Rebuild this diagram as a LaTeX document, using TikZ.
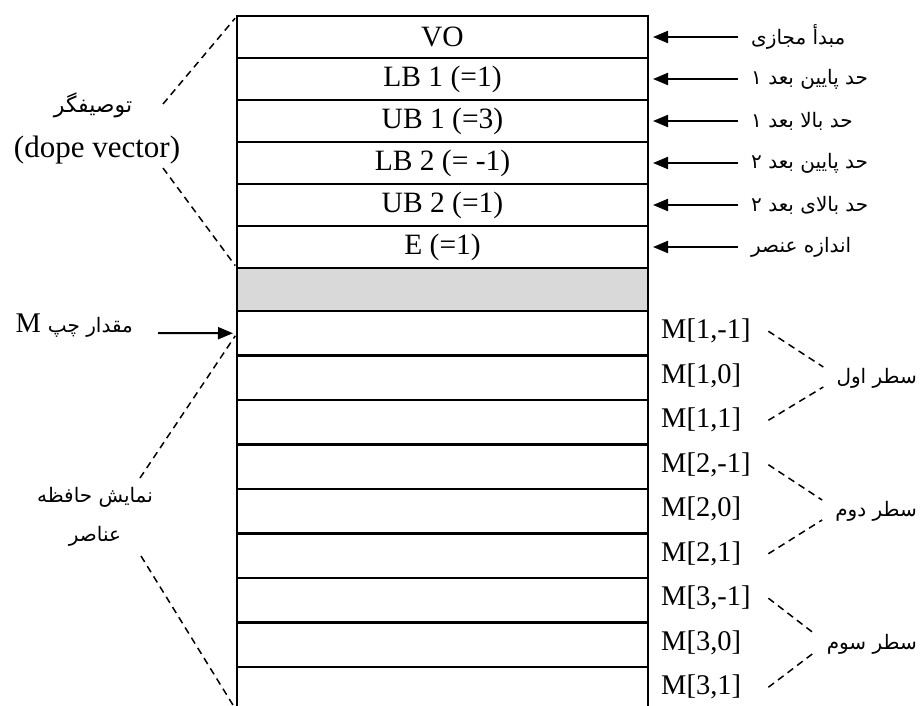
\documentclass[tikz,border=0pt]{standalone}
\usepackage{fontspec}
\setmainfont{Liberation Serif}
\newfontfamily\fa[Script=Arabic]{DejaVu Sans}
\TeXXeTstate=1
\usetikzlibrary{arrows.meta,positioning}
\tikzset{
  cell/.style={
    draw, line width=2.6pt, minimum width=411pt, outer sep=0pt, inner sep=0pt,
    font=\fontsize{29.5}{35}\selectfont
  },
  dopecell/.style={cell, minimum height=42pt},
  gapcell/.style={cell, minimum height=43pt, fill=black!15},
  memcell/.style={cell, minimum height=44.5pt},
  idx/.style={font=\fontsize{28.5}{34}\selectfont, text width=92pt, align=left, inner sep=3pt},
  note/.style={font=\fa\fontsize{20}{24}\selectfont, inner sep=3pt},
  grp/.style={note, anchor=east},
  ptr/.style={line width=2pt, -{Triangle[length=15pt, width=12pt]}},
  guide/.style={line width=1.5pt, dash pattern=on 7pt off 5pt}
}

\begin{document}
\begin{tikzpicture}[x=1pt, y=-1pt, node distance=0pt]
  \useasboundingbox (0,0) rectangle (924,706);

  % dope vector
  \node[dopecell] (vo) at (442.5,37) {VO};
  \node[dopecell, below=of vo] (lb1) {LB 1 (=1)};
  \node[dopecell, below=of lb1] (ub1) {UB 1 (=3)};
  \node[dopecell, below=of ub1] (lb2) {LB 2 (= -1)};
  \node[dopecell, below=of lb2] (ub2) {UB 2 (=1)};
  \node[dopecell, below=of ub2] (esz) {E (=1)};
  \node[gapcell, below=of esz] (gap) {};

  % elements
  \node[memcell, below=of gap] (m1) {};
  \node[memcell, below=of m1] (m2) {};
  \node[memcell, below=of m2] (m3) {};
  \node[memcell, below=of m3] (m4) {};
  \node[memcell, below=of m4] (m5) {};
  \node[memcell, below=of m5] (m6) {};
  \node[memcell, below=of m6] (m7) {};
  \node[memcell, below=of m7] (m8) {};
  \node[memcell, below=of m8] (m9) {};

  \node[idx, right=10pt of m1, yshift=2pt] (i1) {M[1,-1]};
  \node[idx, right=10pt of m2, yshift=2pt] (i2) {M[1,0]};
  \node[idx, right=10pt of m3, yshift=2pt] (i3) {M[1,1]};
  \node[idx, right=10pt of m4, yshift=2pt] (i4) {M[2,-1]};
  \node[idx, right=10pt of m5, yshift=2pt] (i5) {M[2,0]};
  \node[idx, right=10pt of m6, yshift=2pt] (i6) {M[2,1]};
  \node[idx, right=10pt of m7, yshift=2pt] (i7) {M[3,-1]};
  \node[idx, right=10pt of m8, yshift=2pt] (i8) {M[3,0]};
  \node[idx, right=10pt of m9, yshift=2pt] (i9) {M[3,1]};

  % right notes
  \node[note, right=100pt of vo] (n1) {\beginR مبدأ مجازی\endR};
  \node[note, right=100pt of lb1] (n2) {\beginR حد پایین بعد ۱\endR};
  \node[note, right=100pt of ub1] (n3) {\beginR حد بالا بعد ۱\endR};
  \node[note, right=100pt of lb2] (n4) {\beginR حد پایین بعد ۲\endR};
  \node[note, right=100pt of ub2] (n5) {\beginR حد بالای بعد ۲\endR};
  \node[note, right=100pt of esz] (n6) {\beginR اندازه عنصر\endR};
  \draw[ptr, shorten <=10pt, shorten >=5pt] (n1) -- (vo);
  \draw[ptr, shorten <=10pt, shorten >=5pt] (n2) -- (lb1);
  \draw[ptr, shorten <=10pt, shorten >=5pt] (n3) -- (ub1);
  \draw[ptr, shorten <=10pt, shorten >=5pt] (n4) -- (lb2);
  \draw[ptr, shorten <=10pt, shorten >=5pt] (n5) -- (ub2);
  \draw[ptr, shorten <=10pt, shorten >=5pt] (n6) -- (esz);

  % row groups
  \node[grp] (g1) at (920,378) {\beginR سطر اول\endR};
  \node[grp] (g2) at (920,511) {\beginR سطر دوم\endR};
  \node[grp] (g3) at (920,644) {\beginR سطر سوم\endR};
  \draw[guide] ([xshift=12pt]i1.east) -- ([xshift=-10pt, yshift=11pt]g1.west);
  \draw[guide] ([xshift=12pt]i3.east) -- ([xshift=-10pt, yshift=-9pt]g1.west);
  \draw[guide] ([xshift=12pt]i4.east) -- ([xshift=-10pt, yshift=11pt]g2.west);
  \draw[guide] ([xshift=12pt]i6.east) -- ([xshift=-10pt, yshift=-9pt]g2.west);
  \draw[guide] ([xshift=12pt]i7.east) -- ([xshift=-10pt, yshift=11pt]g3.west);
  \draw[guide] ([xshift=12pt]i9.east) -- ([xshift=-10pt, yshift=-9pt]g3.west);

  % left labels
  \node[note, font=\fa\fontsize{22}{26}\selectfont] (dopefa) at (93,105) {\beginR توصیفگر\endR};
  \node[font=\fontsize{31}{37}\selectfont] (dopeen) at (97,150) {(dope vector)};
  \coordinate (d1) at (163,104);
  \coordinate (d2) at (163,168);
  \draw[guide, shorten >=3pt] (d1) -- (vo.north west);
  \draw[guide, shorten >=3pt] (d2) -- (gap.north west);

  \node[anchor=west, font=\fontsize{28.5}{34}\selectfont] (lval) at (12,326) {M~{\fa\fontsize{20}{24}\selectfont\beginR مقدار چپ\endR}};
  \coordinate (lv) at (158,333);
  \draw[ptr, shorten >=4pt] (lv) -- (m1.west);

  \node[note, align=center, font=\fa\fontsize{20}{39}\selectfont] (memlbl) at (95,517) {\beginR نمایش حافظه\endR\\\beginR عناصر\endR};
  \coordinate (e1) at (140,478);
  \coordinate (e2) at (141,556);
  \draw[guide, shorten >=3pt] (e1) -- (m1.west);
  \draw[guide] (e2) -- (m9.south west);
\end{tikzpicture}
\end{document}
